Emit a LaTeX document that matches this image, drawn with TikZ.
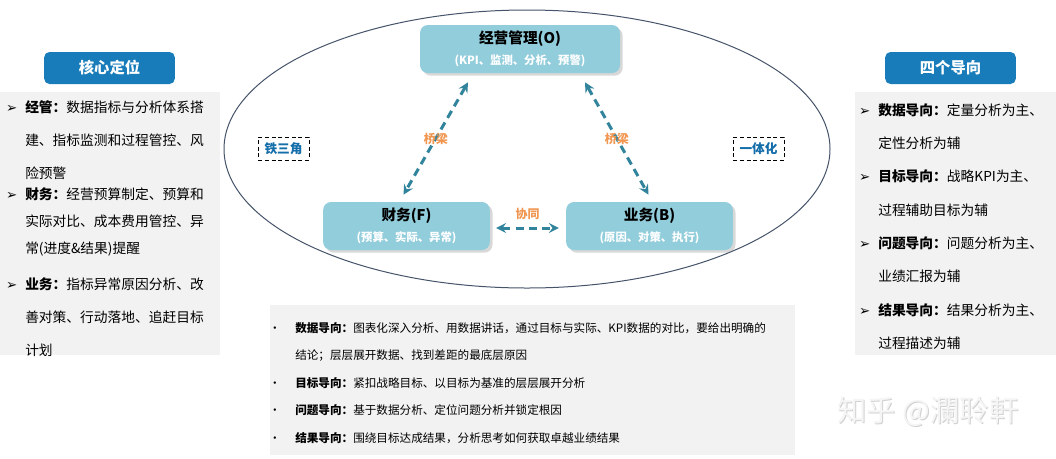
\documentclass[tikz,border=0pt]{standalone}
\usepackage{fontspec}
\setmainfont{Noto Sans CJK SC}
\newfontfamily\symfont{DejaVu Sans}
\usepackage{xcolor}
\usetikzlibrary{shapes,arrows,positioning,calc,shadows}
\definecolor{headblue}{RGB}{24,124,186}
\definecolor{boxblue}{RGB}{146,205,220}
\definecolor{linkteal}{RGB}{49,132,155}
\definecolor{bridge}{RGB}{240,150,80}
\definecolor{panelgray}{RGB}{242,242,242}
\definecolor{ringline}{RGB}{70,84,106}
\definecolor{tagblue}{RGB}{20,110,170}
\newcommand{\arw}{\makebox[0pt][r]{{\symfont\fontsize{10}{10}\selectfont ➢}\hspace{6pt}}}
\newcommand{\dotb}{\makebox[0pt][r]{•\hspace{11pt}}}

\begin{document}
\begin{tikzpicture}[x=0.75pt, y=-0.75pt,
            head/.style={rectangle, rounded corners=4pt, fill=headblue, text=white, minimum width=98pt, minimum height=24pt, font=\fontsize{11.5}{14}\selectfont\bfseries},
            role/.style={rectangle, rounded corners=6pt, fill=boxblue, minimum height=36pt, align=center, inner sep=0pt, drop shadow={shadow xshift=2pt, shadow yshift=-2pt, opacity=0.3}, font=\fontsize{11}{16}\selectfont\bfseries},
            item/.style={anchor=north west, align=left, inner sep=0pt},
            tag/.style={rectangle, draw=black, densely dashed, minimum width=38pt, minimum height=17pt, text=tagblue, font=\fontsize{9.5}{11}\selectfont\bfseries},
            link/.style={<->, >=stealth, line width=2.25pt, linkteal, dash pattern=on 6pt off 4pt},
            tip/.style={text=bridge, inner sep=1pt, font=\fontsize{9}{10}\selectfont\bfseries}
        ]
        \useasboundingbox (0,0) rectangle (1056,458);
        \fill[white] (0,0) rectangle (1056,458);

        % Panels
        \fill[panelgray] (0,92) rectangle (220,355);
        \fill[panelgray] (855,92) rectangle (1056,355);
        \fill[panelgray] (270,305) rectangle (795,455);

        % Left: core position
        \node[head] (core) at (109.5,68) {核心定位};
        \node[item, font=\fontsize{10.3}{24.75}\selectfont] (core1) at (25,100) {\arw\textbf{经管：}数据指标与分析体系搭\\建、指标监测和过程管控、风\\险预警};
        \node[item, font=\fontsize{10.3}{20.6}\selectfont] (core2) at (25,187) {\arw\textbf{财务：}经营预算制定、预算和\\实际对比、成本费用管控、异\\常(进度\&结果)提醒};
        \node[item, font=\fontsize{10.3}{25}\selectfont] (core3) at (25,277) {\arw\textbf{业务：}指标异常原因分析、改\\善对策、行动落地、追赶目标\\计划};

        % Right: four orientations
        \node[head] (guide) at (950.5,68) {四个导向};
        \node[item, font=\fontsize{10.3}{25}\selectfont] (guide1) at (878,103) {\arw\textbf{数据导向：}定量分析为主、\\定性分析为辅\\ \arw\textbf{目标导向：}战略KPI为主、\\过程辅助目标为辅\\ \arw\textbf{问题导向：}问题分析为主、\\业绩汇报为辅\\ \arw\textbf{结果导向：}结果分析为主、\\过程描述为辅};

        % Iron triangle
        \draw[ringline, line width=0.75pt] (527,149) ellipse [x radius=303, y radius=139];
        \node[tag] (iron) at (283.5,148.5) {铁三角};
        \node[tag] (unity) at (758.5,148.5) {一体化};
        \node[role, minimum width=150pt] (O) at (520,49) {经营管理(O)\\{\color{white}\fontsize{8.5}{10}\selectfont (KPI、监测、分析、预警)}};
        \node[role, minimum width=125pt] (F) at (406.5,226) {财务(F)\\{\color{white}\fontsize{8.5}{10}\selectfont (预算、实际、异常)}};
        \node[role, minimum width=125pt] (B) at (649.5,226) {业务(B)\\{\color{white}\fontsize{8.5}{10}\selectfont (原因、对策、执行)}};

        % Arrows
        \draw[link] ($(O.south)+(-52,9)$) -- node[tip] {桥梁} ($(F.north)+(-3,-7)$);
        \draw[link] ($(O.south)+(65,9)$) -- node[tip] {桥梁} ($(B.north)+(-1,-7)$);
        \draw[link] ($(F.east)+(6,2)$) -- node[tip, above=4pt] {协同} ($(B.west)+(-7,2)$);

        % Bottom notes
        \node[item, font=\fontsize{8.7}{20.6}\selectfont] (notes) at (295,322) {\dotb\textbf{数据导向：}图表化深入分析、用数据讲话，通过目标与实际、KPI数据的对比，要给出明确的\\结论；层层展开数据、找到差距的最底层原因\\ \dotb\textbf{目标导向：}紧扣战略目标、以目标为基准的层层展开分析\\ \dotb\textbf{问题导向：}基于数据分析、定位问题分析并锁定根因\\ \dotb\textbf{结果导向：}围绕目标达成结果，分析思考如何获取卓越业绩结果};

        % Watermark
        \node[text=gray!35, font=\fontsize{22}{24}\selectfont] (wmshade) at (929,413) {知乎 @瀾聆軒};
        \node[text=gray!8, font=\fontsize{22}{24}\selectfont] (wm) at (928,412) {知乎 @瀾聆軒};

        \end{tikzpicture}
\end{document}
